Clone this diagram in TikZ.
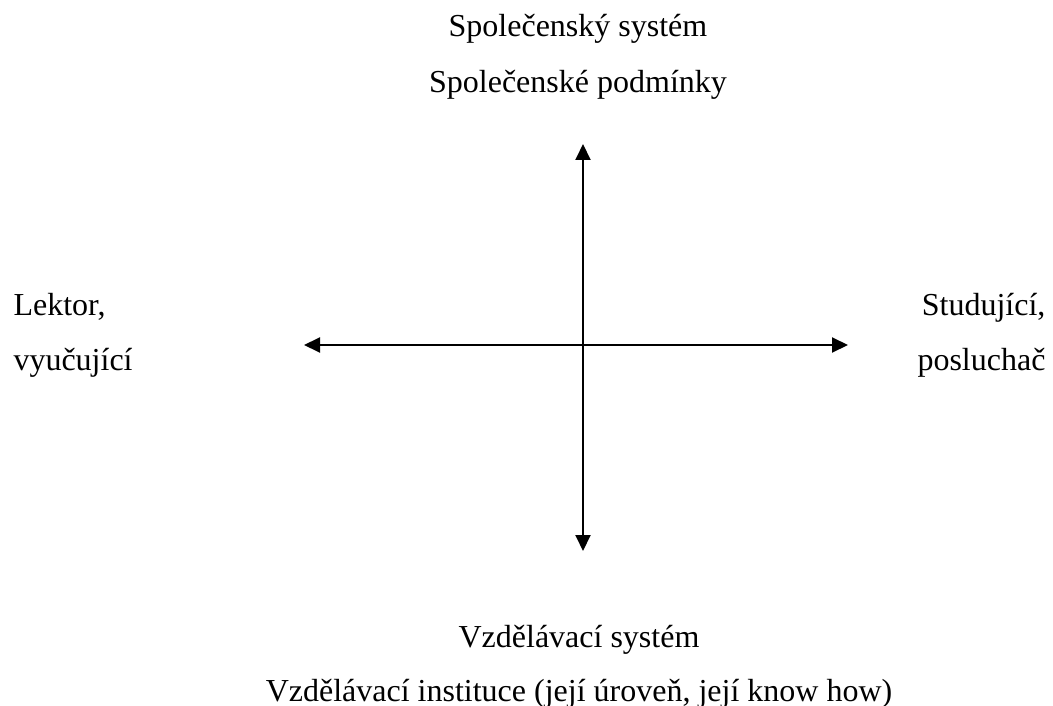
\documentclass[tikz,border=0pt]{standalone}
\usepackage{fontspec}
\setmainfont{Liberation Serif}
\usetikzlibrary{arrows.meta}

\begin{document}
\begin{tikzpicture}[x=0.375pt, y=-0.375pt,
    lbl/.style={inner sep=0pt, font=\fontsize{12}{14}\selectfont},
    arr/.style={line width=0.85pt, {Triangle[length=6pt, width=5.6pt]}-{Triangle[length=6pt, width=5.6pt]}}]
    \useasboundingbox (0,0) rectangle (1053,706);
    % axes
    \coordinate (top) at (583,144);
    \coordinate (bottom) at (583,551);
    \coordinate (left) at (304,345);
    \coordinate (right) at (848,345);
    \draw[arr] (top) -- (bottom);
    \draw[arr] (left) -- (right);
    % labels
    \node[lbl, anchor=base] (spol1) at (578,37) {Společenský systém};
    \node[lbl, anchor=base] (spol2) at (578,93) {Společenské podmínky};
    \node[lbl, anchor=base west] (lekt1) at (13,315) {Lektor,};
    \node[lbl, anchor=base west] (lekt2) at (13,370) {vyučující};
    \node[lbl, anchor=base east] (stud1) at (1046,315) {Studující,};
    \node[lbl, anchor=base east] (stud2) at (1046,370) {posluchač};
    \node[lbl, anchor=base] (vzd1) at (579,647) {Vzdělávací systém};
    \node[lbl, anchor=base] (vzd2) at (579,701) {Vzdělávací instituce (její úroveň, její know how)};
\end{tikzpicture}
\end{document}
